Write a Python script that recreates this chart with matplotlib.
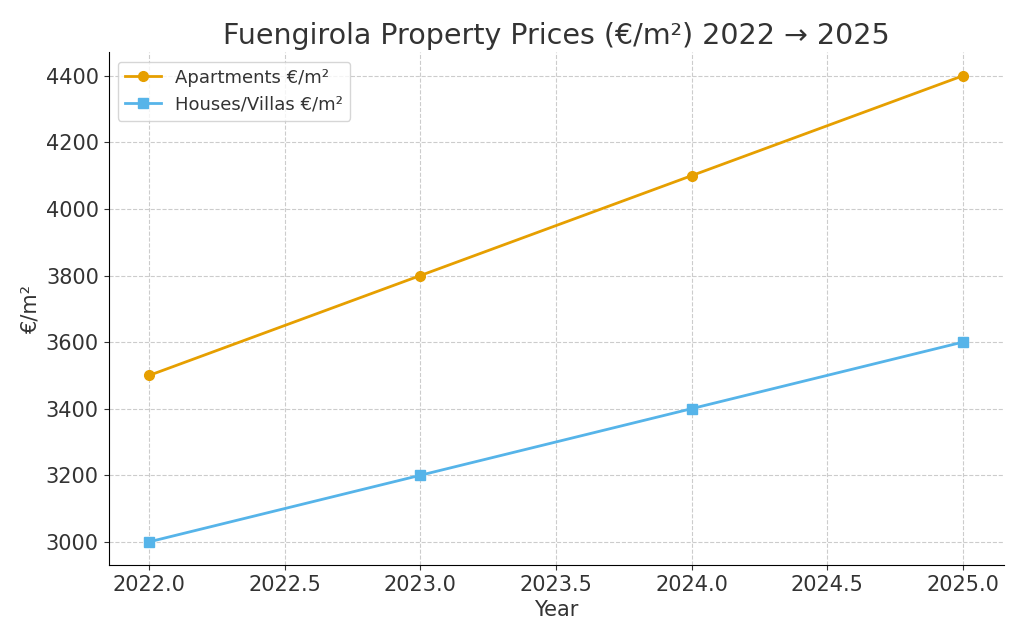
import matplotlib
matplotlib.use("Agg")
import matplotlib.pyplot as plt

# Fuengirola prices per square metre
YEARS = [2022, 2023, 2024, 2025]
APARTMENTS = [3500, 3800, 4100, 4400]
HOUSES = [3000, 3200, 3400, 3600]

TXT_CLR = "#333333"
plt.rcParams["font.family"] = ["DejaVu Sans"]

fig, ax = plt.subplots(figsize=(10.24, 6.4), dpi=100)
fig.subplots_adjust(left=0.106, right=0.98, top=0.918, bottom=0.117)

ax.plot(YEARS, APARTMENTS, marker="o", color="#E69F00", linewidth=2, markersize=7, label="Apartments €/m²")
ax.plot(YEARS, HOUSES, marker="s", color="#56B4E9", linewidth=2, markersize=7, label="Houses/Villas €/m²")

ax.set_title("Fuengirola Property Prices (€/m²) 2022 → 2025", fontsize=20.5, color=TXT_CLR)
ax.set_xlabel("Year", fontsize=15, color=TXT_CLR)
ax.set_ylabel("€/m²", fontsize=15, color=TXT_CLR)
ax.tick_params(axis="both", labelsize=15, colors=TXT_CLR)
ax.set_yticks(range(3000, 4401, 200))
ax.grid(True, linestyle="--", color="#cccccc", linewidth=0.8)
ax.spines["top"].set_visible(False)
ax.spines["right"].set_visible(False)
ax.legend(loc="upper left", fontsize=13, labelcolor=TXT_CLR)

fig.savefig("out.png")
